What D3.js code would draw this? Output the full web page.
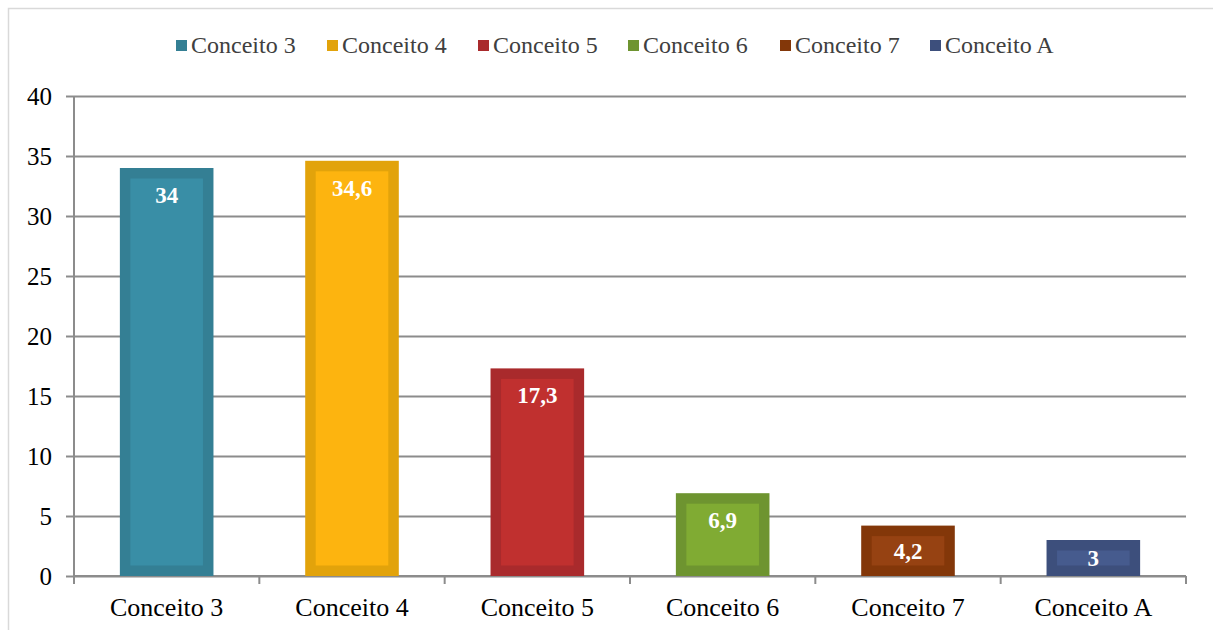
<!DOCTYPE html>
<html>
<head>
<meta charset="utf-8">
<script src="https://cdn.jsdelivr.net/npm/d3@7"></script>
<style>
  html, body { margin: 0; padding: 0; background: #fff; }
  svg { display: block; font-family: "Liberation Serif", "Times New Roman", serif; }
</style>
</head>
<body>
<svg id="chart" width="1213" height="630"></svg>
<script>
// Categories and their values
const categories = ["Conceito 3", "Conceito 4", "Conceito 5", "Conceito 6", "Conceito 7", "Conceito A"];
const values = [34, 34.6, 17.3, 6.9, 4.2, 3];
const valueLabels = ["34", "34,6", "17,3", "6,9", "4,2", "3"];
const yTicks = [0, 5, 10, 15, 20, 25, 30, 35, 40];
// Bar colours: outer frame and inner fill
const edgeColors = ["#347f94", "#e2a30b", "#a92a2c", "#6e9430", "#833709", "#3d4f7c"];
const fillColors = ["#398ea6", "#fdb40f", "#c0302f", "#80ab33", "#964212", "#465b8e"];

const svg = d3.select("#chart");
const W = 1213, H = 630;
const plot = { left: 74, right: 1186, top: 96, bottom: 576 };

// Outer chart frame
svg.append("rect")
  .attr("x", 8.5).attr("y", 8.5)
  .attr("width", W).attr("height", H)
  .attr("fill", "#fff").attr("stroke", "#d9d9d9").attr("stroke-width", 1.5);

const x = d3.scaleBand().domain(categories).range([plot.left, plot.right]).padding(0);
const y = d3.scaleLinear().domain([0, 40]).range([plot.bottom, plot.top]);

// Horizontal gridlines with left tick stubs
const gridG = svg.append("g")
  .attr("transform", `translate(${plot.left},0)`)
  .call(d3.axisLeft(y).tickValues(yTicks).tickSize(8).tickFormat(d => d).tickPadding(14));
gridG.select(".domain").remove();
gridG.selectAll(".tick line").attr("stroke", "#8c8c8c").attr("stroke-width", 2);
gridG.selectAll(".tick").append("line")
  .attr("x1", 0).attr("x2", plot.right - plot.left)
  .attr("stroke", "#8c8c8c").attr("stroke-width", 2);
gridG.selectAll(".tick text")
  .attr("fill", "#000").style("font-size", "25px")
  .style("font-family", "'Liberation Serif', 'Times New Roman', serif");

// Vertical axis line
svg.append("line")
  .attr("x1", plot.left).attr("x2", plot.left)
  .attr("y1", plot.top).attr("y2", plot.bottom + 8)
  .attr("stroke", "#8c8c8c").attr("stroke-width", 2);

// Bottom axis with category ticks at band boundaries
const xAxisG = svg.append("g").attr("transform", `translate(0,${plot.bottom})`);
xAxisG.append("line")
  .attr("x1", plot.left).attr("x2", plot.right)
  .attr("stroke", "#8c8c8c").attr("stroke-width", 2);
const bounds = categories.map(c => x(c)).concat([plot.right]);
xAxisG.selectAll("line.cat")
  .data(bounds).enter().append("line")
  .attr("class", "cat")
  .attr("x1", d => d).attr("x2", d => d)
  .attr("y1", 0).attr("y2", 8)
  .attr("stroke", "#8c8c8c").attr("stroke-width", 2);
xAxisG.selectAll("text")
  .data(categories).enter().append("text")
  .attr("x", d => x(d) + x.bandwidth() / 2)
  .attr("y", 40)
  .attr("text-anchor", "middle")
  .style("font-size", "26px")
  .attr("fill", "#000")
  .text(d => d);

// Bars
const barW = x.bandwidth() * 0.505;
const inset = 10.5;
const bars = svg.append("g").selectAll("g")
  .data(categories).enter().append("g");

bars.append("rect")
  .attr("x", d => x(d) + (x.bandwidth() - barW) / 2)
  .attr("y", (d, i) => y(values[i]))
  .attr("width", barW)
  .attr("height", (d, i) => y(0) - y(values[i]))
  .attr("fill", (d, i) => edgeColors[i]);

bars.append("rect")
  .attr("x", d => x(d) + (x.bandwidth() - barW) / 2 + inset)
  .attr("y", (d, i) => y(values[i]) + inset)
  .attr("width", barW - 2 * inset)
  .attr("height", (d, i) => Math.max(0, y(0) - y(values[i]) - 2 * inset))
  .attr("fill", (d, i) => fillColors[i]);

// Value labels inside the top of each bar
bars.append("text")
  .attr("x", d => x(d) + x.bandwidth() / 2)
  .attr("y", (d, i) => {
    const top = y(values[i]);
    const mid = (top + y(0)) / 2;
    return Math.min(top + 27, mid);
  })
  .attr("dy", "0.35em")
  .attr("text-anchor", "middle")
  .attr("fill", "#fff")
  .style("font-size", "23px")
  .style("font-weight", "bold")
  .text((d, i) => valueLabels[i]);

// Legend
const legendX = [176, 327, 478, 628, 780, 930];
const legend = svg.append("g").selectAll("g")
  .data(categories).enter().append("g")
  .attr("transform", (d, i) => `translate(${legendX[i]},45)`);
legend.append("rect")
  .attr("x", 0).attr("y", -5)
  .attr("width", 11).attr("height", 11)
  .attr("fill", (d, i) => edgeColors[i]);
legend.append("text")
  .attr("x", 15).attr("y", 0)
  .attr("dy", "0.35em")
  .attr("fill", "#404040")
  .style("font-size", "24px")
  .text(d => d);
</script>
</body>
</html>
